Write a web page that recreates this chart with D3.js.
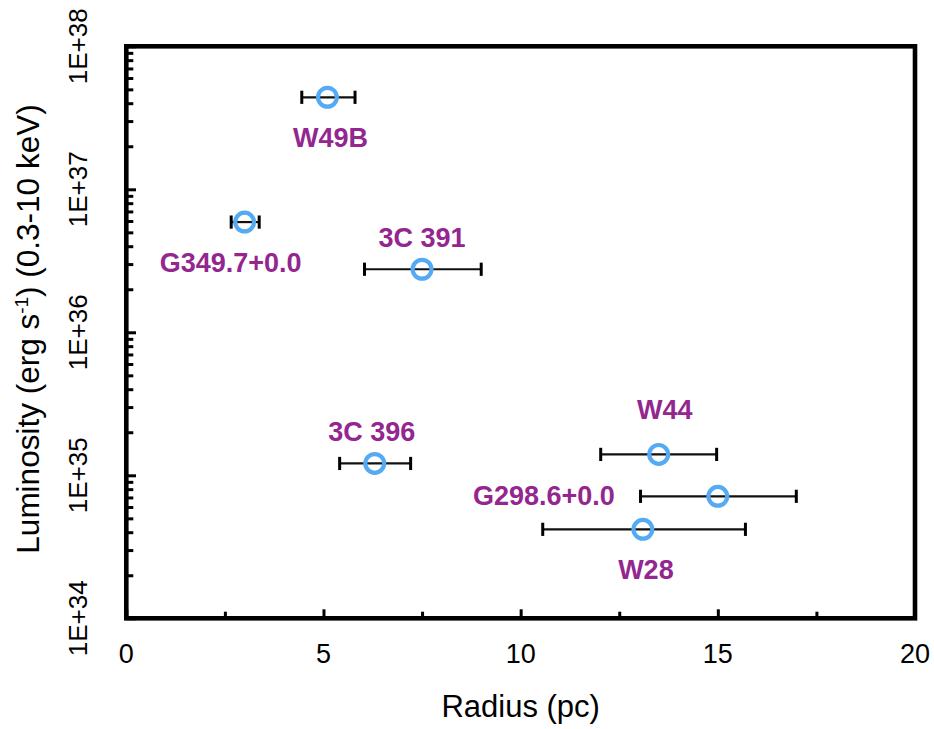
<!DOCTYPE html>
<html>
<head>
<meta charset="utf-8">
<script src="https://cdn.jsdelivr.net/npm/d3@7"></script>
<style>
  html, body { margin: 0; padding: 0; background: #fff; }
  svg { display: block; }
  text { font-family: "Liberation Sans", Arial, Helvetica, sans-serif; }
</style>
</head>
<body>
<svg id="chart" width="934" height="729"></svg>
<script>
// Supernova remnants: radius (pc) vs X-ray luminosity (erg/s, 0.3-10 keV)
const names      = ["W49B", "G349.7+0.0", "3C 391", "3C 396", "W44", "G298.6+0.0", "W28"];
const radius     = [5.1, 3.0, 7.5, 6.3, 13.5, 15.0, 13.1];
const radiusLow  = [4.45, 2.66, 6.04, 5.41, 12.03, 13.04, 10.56];
const radiusHigh = [5.8, 3.37, 9.0, 7.21, 14.97, 16.99, 15.70];
const luminosity = [4.4e37, 5.9e36, 2.76e36, 1.21e35, 1.40e35, 7.13e34, 4.19e34];

const xTickValues = [0, 5, 10, 15, 20];
const xMinorTicks = [2.5, 7.5, 12.5, 17.5];
const yTickValues = [1e34, 1e35, 1e36, 1e37, 1e38];
const yTickLabels = ["1E+34", "1E+35", "1E+36", "1E+37", "1E+38"];

// label placement relative to each marker (px): [dx, dy, anchor]
const labelPlacement = [
  [3, 50, "middle"],
  [-14, 50, "middle"],
  [0, -22, "middle"],
  [-3, -22, "middle"],
  [6, -35, "middle"],
  [-103, 9, "end"],
  [3, 50, "middle"]
];

const svg = d3.select("#chart");
const plotLeft = 126.3, plotRight = 915, plotTop = 46.3, plotBottom = 618.3;

const x = d3.scaleLinear().domain([0, 20]).range([plotLeft, plotRight]);
const y = d3.scaleLog().domain([1e34, 1e38]).range([plotBottom, plotTop]);

const purple = "#93268f";
const blue = "#55aaf4";

// minor log ticks 2..9 per decade
const yMinor = [];
for (let e = 34; e < 38; e++) {
  for (let m = 2; m <= 9; m++) yMinor.push(m * Math.pow(10, e));
}

// y axis ticks (inward)
const yMajorAxis = d3.axisLeft(y).tickValues(yTickValues).tickSize(-9.7).tickFormat("");
const yMinorAxis = d3.axisLeft(y).tickValues(yMinor).tickSize(-7).tickFormat("");
[yMajorAxis, yMinorAxis].forEach(ax => {
  const g = svg.append("g").attr("transform", `translate(${plotLeft},0)`).call(ax);
  g.select(".domain").remove();
  g.selectAll(".tick line").attr("stroke", "#000").attr("stroke-width", 3);
});

// x axis ticks (inward)
const xMajorAxis = d3.axisBottom(x).tickValues(xTickValues).tickSize(-9).tickFormat("");
const xMinorAxis = d3.axisBottom(x).tickValues(xMinorTicks).tickSize(-6.6).tickFormat("");
[xMajorAxis, xMinorAxis].forEach(ax => {
  const g = svg.append("g").attr("transform", `translate(0,${plotBottom})`).call(ax);
  g.select(".domain").remove();
  g.selectAll(".tick line").attr("stroke", "#000").attr("stroke-width", 3);
});

// frame
svg.append("rect")
  .attr("x", plotLeft).attr("y", plotTop)
  .attr("width", plotRight - plotLeft).attr("height", plotBottom - plotTop)
  .attr("fill", "none").attr("stroke", "#000").attr("stroke-width", 4.6);

// x tick labels
svg.append("g").selectAll("text").data(xTickValues).join("text")
  .attr("x", d => x(d)).attr("y", 663)
  .attr("text-anchor", "middle")
  .attr("font-size", 27)
  .attr("fill", "#000")
  .text(d => d);

// y tick labels, rotated
svg.append("g").selectAll("text").data(yTickValues).join("text")
  .attr("transform", d => `translate(87,${y(d)}) rotate(-90)`)
  .attr("text-anchor", "middle")
  .attr("font-size", 26)
  .attr("fill", "#000")
  .text((d, i) => yTickLabels[i]);

// axis titles
svg.append("text")
  .attr("x", (plotLeft + plotRight) / 2).attr("y", 717)
  .attr("text-anchor", "middle")
  .attr("font-size", 31)
  .attr("fill", "#000")
  .text("Radius (pc)");

const yTitle = svg.append("text")
  .attr("transform", `translate(39,329) rotate(-90)`)
  .attr("text-anchor", "middle")
  .attr("font-size", 31.5)
  .attr("fill", "#000");
yTitle.append("tspan").text("Luminosity (erg s");
yTitle.append("tspan").attr("font-size", 19).attr("dy", -11).text("-1");
yTitle.append("tspan").attr("dy", 11).text(") (0.3-10 keV)");

// data
const data = names.map((n, i) => ({
  name: n, r: radius[i], lo: radiusLow[i], hi: radiusHigh[i], L: luminosity[i],
  place: labelPlacement[i]
}));

const capH = 6.6;
const eg = svg.append("g");
eg.selectAll("line.bar").data(data).join("line").attr("class", "bar")
  .attr("x1", d => x(d.lo)).attr("x2", d => x(d.hi))
  .attr("y1", d => y(d.L)).attr("y2", d => y(d.L))
  .attr("stroke", "#111").attr("stroke-width", 2.2);
eg.selectAll("line.capl").data(data).join("line").attr("class", "capl")
  .attr("x1", d => x(d.lo)).attr("x2", d => x(d.lo))
  .attr("y1", d => y(d.L) - capH).attr("y2", d => y(d.L) + capH)
  .attr("stroke", "#000").attr("stroke-width", 3);
eg.selectAll("line.caph").data(data).join("line").attr("class", "caph")
  .attr("x1", d => x(d.hi)).attr("x2", d => x(d.hi))
  .attr("y1", d => y(d.L) - capH).attr("y2", d => y(d.L) + capH)
  .attr("stroke", "#000").attr("stroke-width", 3);

svg.append("g").selectAll("circle").data(data).join("circle")
  .attr("cx", d => x(d.r)).attr("cy", d => y(d.L))
  .attr("r", 9.4)
  .attr("fill", "none")
  .attr("stroke", blue).attr("stroke-width", 4.2);

svg.append("g").selectAll("text").data(data).join("text")
  .attr("x", d => x(d.r) + d.place[0])
  .attr("y", d => y(d.L) + d.place[1])
  .attr("text-anchor", d => d.place[2])
  .attr("font-size", 27)
  .attr("font-weight", "bold")
  .attr("fill", purple)
  .text(d => d.name);
</script>
</body>
</html>
